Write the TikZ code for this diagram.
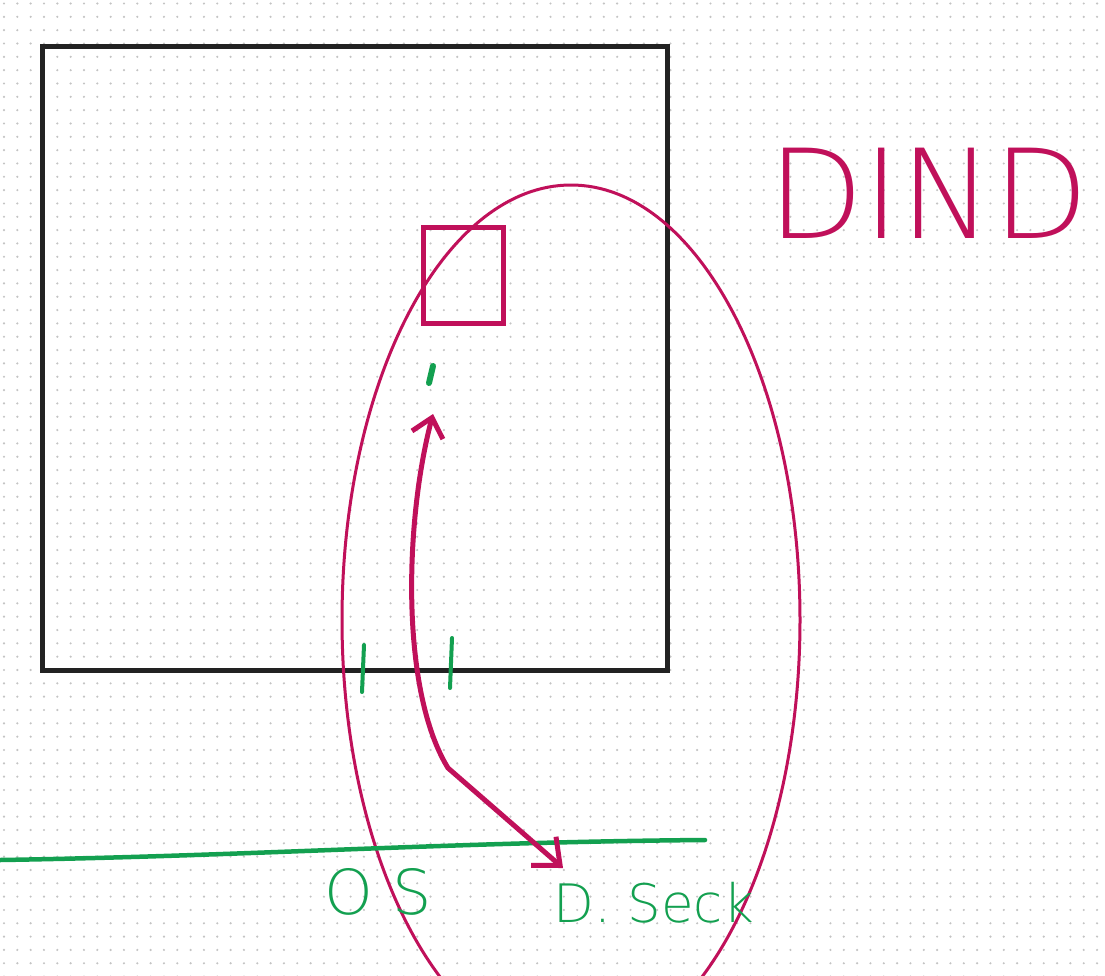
\documentclass[tikz,border=0pt]{standalone}
\usepackage{fontspec}
\setmainfont{Liberation Sans}
\newfontfamily\thinfont{DejaVu Sans ExtraLight}
\usetikzlibrary{arrows.meta}
\definecolor{ink}{HTML}{222222}
\definecolor{mag}{HTML}{C0105A}
\definecolor{grn}{HTML}{13A050}
\definecolor{dotc}{HTML}{C4C4C4}
\begin{document}
\begin{tikzpicture}[x=1pt,y=-1pt,
  blackbox/.style={draw=ink,line width=5pt,line join=miter},
  magbox/.style={draw=mag,line width=4.5pt},
  magline/.style={draw=mag,line width=3pt},
  grnline/.style={draw=grn,line width=4.5pt,line cap=round},
  tick/.style={draw=grn,line width=4pt,line cap=round},
  arr/.style={draw=mag,line width=5pt,line cap=round,
    {Straight Barb[length=18pt,width=32pt,line width=5pt]}-{Straight Barb[length=22pt,width=38pt,line width=5pt]}},
  lbl/.style={inner sep=0pt,anchor=base west}]
\useasboundingbox (0,0) rectangle (1105,975);
\clip (0,0) rectangle (1105,975);
\fill[white] (0,0) rectangle (1105,975);
% dot grid
\foreach \i in {0,...,82}{
  \foreach \j in {0,...,73}{
    \fill[dotc] ({4+13.33*\i},{3.5+13.33*\j}) circle[radius=1.2pt];
  }
}
% big black square
\node[blackbox,minimum width=625pt,minimum height=624pt,anchor=north west,inner sep=0pt] (big) at (40,44) {};
% small magenta square
\node[magbox,minimum width=80pt,minimum height=96pt,anchor=north west,inner sep=0pt] (small) at (421,225) {};
% ellipse
\draw[magline] (571,620) ellipse [x radius=229pt, y radius=435pt];
\coordinate (ell) at (571,620);
% green baseline
\coordinate (g1) at (0,860);
\coordinate (g2) at (705,840);
\draw[grnline] (g1) .. controls (250,856) and (450,842) .. (g2);
% green ticks
\coordinate (t1a) at (433,366); \coordinate (t1b) at (429,383);
\draw[grnline,line width=6pt] (t1a) -- (t1b);
\coordinate (t2a) at (364,645); \coordinate (t2b) at (362,692);
\draw[tick] (t2a) -- (t2b);
\coordinate (t3a) at (452,638); \coordinate (t3b) at (450,688);
\draw[tick] (t3a) -- (t3b);
% arrow
\coordinate (atop) at (433,414);
\coordinate (amid) at (448,768);
\coordinate (abot) at (563,868);
\draw[arr] (atop) .. controls (405,520) and (400,690) .. (amid) -- (abot);
% labels
\node[lbl,text=mag,font=\thinfont\fontsize{124}{124}\selectfont] (dind) at (768,238) {DIND};
\node[lbl,text=grn,font=\thinfont\fontsize{62}{62}\selectfont] (os) at (324,914) {O\hspace{20pt}S};
\node[lbl,text=grn,font=\thinfont\fontsize{53}{53}\selectfont] (dseck) at (553,922) {D. Seck};
\end{tikzpicture}
\end{document}
